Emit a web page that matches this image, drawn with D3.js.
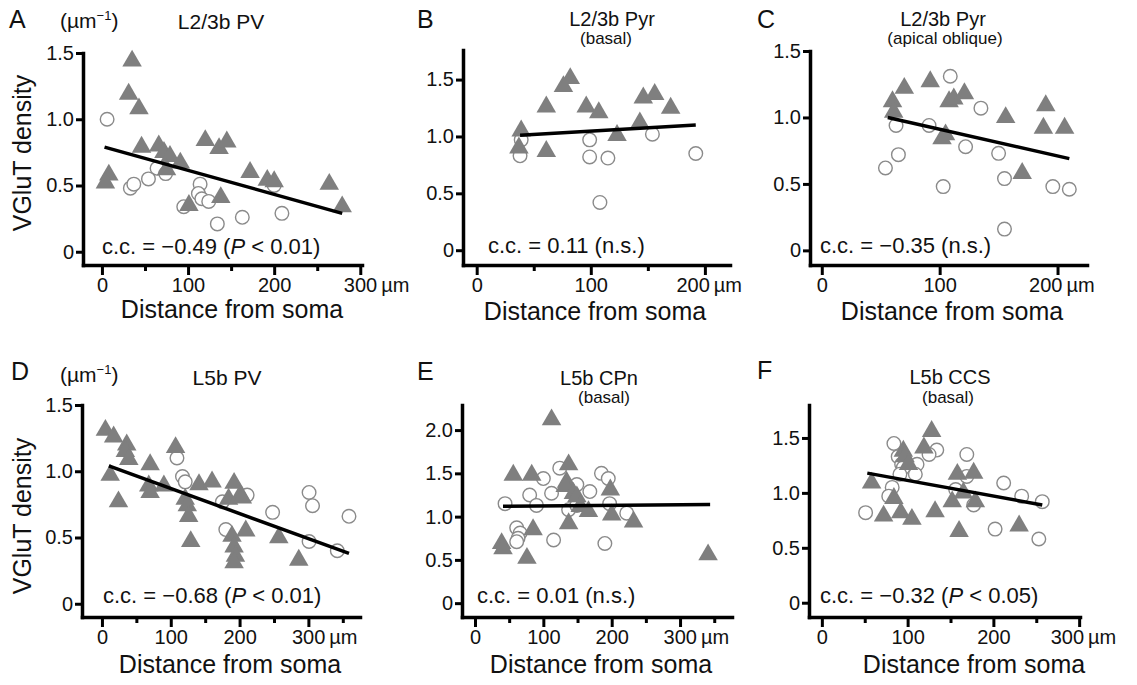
<!DOCTYPE html>
<html>
<head>
<meta charset="utf-8">
<script src="https://cdn.jsdelivr.net/npm/d3@7"></script>
<style>
  body { margin: 0; background: #fff; }
  svg text { font-family: "Liberation Sans", Arial, Helvetica, sans-serif; fill: #111; }
  .axis .domain { stroke: #000; stroke-width: 3.5; stroke-linecap: square; }
  .axis .tick line { stroke: #000; stroke-width: 3; }
  .axis .tick text { font-size: 20px; fill: #111; }
</style>
</head>
<body>
<div id="chart"></div>
<script>
// panel labels and titles
var letters = ["A", "B", "C", "D", "E", "F"];
var titles = ["L2/3b PV", "L2/3b Pyr", "L2/3b Pyr", "L5b PV", "L5b CPn", "L5b CCS"];
var subtitles = ["", "(basal)", "(apical oblique)", "", "(basal)", "(basal)"];
var ccValues = ["\u22120.49", "0.11", "\u22120.35", "\u22120.68", "0.01", "\u22120.32"];
var pValues = ["< 0.01", "n.s.", "n.s.", "< 0.01", "n.s.", "< 0.05"];

// tick values
var yTicks = [[0, 0.5, 1, 1.5], [0, 0.5, 1, 1.5], [0, 0.5, 1, 1.5], [0, 0.5, 1, 1.5], [0, 0.5, 1, 1.5, 2], [0, 0.5, 1, 1.5]];
var xMajor = [[0, 100, 200, 300], [0, 100, 200], [0, 100, 200], [0, 100, 200, 300], [0, 100, 200, 300], [0, 100, 200, 300]];
var xMinor = [[50, 150, 250], [50, 150], [], [50, 150, 250, 350], [50, 150, 250, 350], [50, 150, 250]];

// data: [distance (um), VGluT density (um^-1)]
var triA = [[35,1.44],[31,1.19],[43,1.08],[8,0.58],[4,0.52],[46,0.79],[66,0.80],[72,0.75],[79,0.72],[75,0.62],[91,0.67],[101,0.35],[120,0.84],[136,0.78],[145,0.83],[138,0.41],[172,0.60],[192,0.54],[200,0.53],[264,0.51],[279,0.34]];
var circA = [[6,1.00],[33,0.48],[37,0.51],[54,0.55],[64,0.63],[74,0.59],[95,0.34],[114,0.51],[112,0.44],[116,0.40],[124,0.38],[134,0.21],[163,0.26],[200,0.50],[209,0.29]];
var fitA = [[3,0.79],[279,0.29]];

var triB = [[39,1.05],[37,0.90],[61,0.87],[61,1.26],[76,1.44],[82,1.51],[96,1.26],[107,1.21],[123,1.01],[143,1.12],[146,1.34],[156,1.37],[170,1.25]];
var circB = [[38,0.83],[39,0.97],[99,0.97],[99,0.82],[115,0.81],[108,0.42],[154,1.02],[192,0.85]];
var fitB = [[38,1.01],[192,1.10]];

var triC = [[60,1.12],[61,1.04],[70,1.22],[92,1.27],[102,0.84],[105,0.87],[108,1.12],[112,1.14],[121,1.18],[156,1.00],[170,0.58],[190,1.09],[188,0.92],[206,0.92]];
var circC = [[54,0.62],[63,0.94],[65,0.72],[91,0.94],[103,0.48],[109,1.31],[122,0.78],[135,1.07],[150,0.73],[155,0.54],[155,0.16],[196,0.48],[210,0.46]];
var fitC = [[56,1.00],[210,0.69]];

var triD = [[5,1.31],[17,1.26],[36,1.20],[34,1.15],[39,1.09],[12,0.97],[24,0.77],[70,1.05],[68,0.89],[70,0.84],[90,0.89],[107,1.18],[121,0.79],[124,0.74],[126,0.66],[129,0.47],[141,0.90],[160,0.92],[184,0.79],[192,0.91],[201,0.82],[204,0.80],[189,0.51],[192,0.43],[194,0.36],[192,0.31],[209,0.55],[257,0.50],[286,0.33]];
var circD = [[109,1.10],[117,0.96],[121,0.92],[175,0.77],[180,0.56],[211,0.82],[248,0.69],[301,0.84],[306,0.74],[301,0.47],[342,0.40],[359,0.66]];
var fitD = [[10,1.04],[359,0.38]];

var triE = [[112,2.12],[56,1.48],[83,1.48],[137,1.60],[134,1.40],[132,1.35],[144,1.27],[149,1.23],[154,1.12],[166,1.06],[198,1.31],[200,1.02],[232,0.94],[137,0.92],[85,0.85],[39,0.69],[41,0.63],[76,0.52],[341,0.56]];
var circE = [[44,1.15],[80,1.25],[90,1.13],[100,1.44],[112,1.27],[124,1.56],[149,1.37],[168,1.29],[185,1.50],[195,1.44],[197,1.15],[137,1.08],[149,1.13],[61,0.87],[66,0.81],[63,0.75],[61,0.71],[115,0.73],[190,0.69],[222,1.04]];
var fitE = [[41,1.12],[344,1.14]];

var triF = [[58,1.09],[72,0.79],[84,0.95],[92,0.82],[105,0.76],[95,1.38],[97,1.33],[101,1.26],[119,1.41],[128,1.56],[132,0.83],[158,1.17],[152,0.92],[160,0.65],[165,1.00],[177,1.18],[179,0.92],[230,0.70]];
var circF = [[51,0.82],[84,1.45],[89,1.33],[93,1.26],[95,1.23],[111,1.26],[109,1.17],[91,1.17],[82,1.05],[78,0.97],[134,1.39],[125,1.35],[169,1.35],[169,1.15],[177,0.89],[156,1.03],[212,1.09],[233,0.97],[257,0.92],[202,0.67],[253,0.58]];
var fitF = [[53,1.18],[257,0.89]];

var triangles = [triA, triB, triC, triD, triE, triF];
var circles = [circA, circB, circC, circD, circE, circF];
var fits = [fitA, fitB, fitC, fitD, fitE, fitF];

// panel geometry (pixels)
var layout = [
    {x: [83, 362], y: [265, 53], xd: [-22, 302], yd: [-0.1, 1.5], letter: [9, 28], title: [221, 29], sub: null, unit: [60, 28], cc: [102, 254], xt: [232, 318], ylab: [31, 153], shift: 0},
    {x: [463, 730], y: [265, 50], xd: [-12, 222], yd: [-0.13, 1.76], letter: [417, 28], title: [612, 26], sub: [606, 44], cc: [488, 253], xt: [595, 320], shift: -12},
    {x: [810, 1087], y: [265, 51], xd: [-10, 225], yd: [-0.11, 1.5], letter: [757, 28], title: [943, 26], sub: [945, 44], cc: [820, 253], xt: [952, 320], shift: -12},
    {x: [82, 360], y: [617, 405], xd: [-29, 375], yd: [-0.1, 1.5], letter: [11, 380], title: [227, 385], sub: null, unit: [60, 382], cc: [103, 603], xt: [230, 673], ylab: [31, 516], shift: 0},
    {x: [462, 732], y: [617, 405], xd: [-19, 376], yd: [-0.16, 2.29], letter: [417, 380], title: [599, 385], sub: [604, 403], cc: [477, 603], xt: [601, 673], shift: 0},
    {x: [809, 1080], y: [617, 405], xd: [-15, 301], yd: [-0.13, 1.8], letter: [757, 379], title: [950, 384], sub: [948, 403], cc: [820, 603], xt: [974, 673], shift: -12}
];

var svg = d3.select("#chart")
    .append("svg")
    .attr("width", 1137)
    .attr("height", 685);

var triangle = d3.symbol().type(d3.symbolTriangle).size(165);

function drawPanel(i) {
    var L = layout[i];
    var x = d3.scaleLinear().domain(L.xd).range(L.x);
    var y = d3.scaleLinear().domain(L.yd).range(L.y);
    var g = svg.append("g").attr("class", "panel");

    // open circles first, triangles on top
    g.selectAll("circle.open").data(circles[i]).enter().append("circle")
        .attr("class", "open")
        .attr("cx", function(d) { return x(d[0]); })
        .attr("cy", function(d) { return y(d[1]); })
        .attr("r", 6.8)
        .style("fill", "#fff")
        .style("stroke", "#8a8a8a")
        .style("stroke-width", 1.4);

    g.selectAll("path.tri").data(triangles[i]).enter().append("path")
        .attr("class", "tri")
        .attr("d", triangle)
        .attr("transform", function(d) { return "translate(" + x(d[0]) + "," + y(d[1]) + ")"; })
        .style("fill", "#7f7f7f");

    // regression line
    g.append("path")
        .datum(fits[i])
        .attr("d", d3.line().x(function(d) { return x(d[0]); }).y(function(d) { return y(d[1]); }))
        .style("fill", "none")
        .style("stroke", "#000")
        .style("stroke-width", 3.5);

    // axes
    var yAxis = d3.axisLeft(y)
        .tickValues(yTicks[i])
        .tickSize(7).tickSizeOuter(0).tickPadding(2)
        .tickFormat(function(d) { return d === 0 ? "0" : d3.format(".1f")(d); });
    g.append("g").attr("class", "axis")
        .attr("transform", "translate(" + L.x[0] + ",0)")
        .call(yAxis);

    var last = xMajor[i][xMajor[i].length - 1];
    var xAxis = d3.axisBottom(x)
        .tickValues(xMajor[i])
        .tickSize(10).tickSizeOuter(0).tickPadding(3)
        .tickFormat(d3.format("d"));
    var xg = g.append("g").attr("class", "axis")
        .attr("transform", "translate(0," + L.y[0] + ")")
        .call(xAxis);
    // unit after the last tick label
    xg.selectAll(".tick").filter(function(d) { return d === last; })
        .select("text")
        .attr("text-anchor", "start")
        .attr("x", -17 + L.shift)
        .append("tspan").text("\u2009\u00b5m");

    if (xMinor[i].length) {
        var minor = d3.axisBottom(x).tickValues(xMinor[i]).tickSize(6).tickFormat("");
        g.append("g").attr("class", "axis minor")
            .attr("transform", "translate(0," + L.y[0] + ")")
            .call(minor)
            .select(".domain").remove();
    }

    // texts
    g.append("text").attr("x", L.letter[0]).attr("y", L.letter[1])
        .style("font-size", "25px").text(letters[i]);
    g.append("text").attr("x", L.title[0]).attr("y", L.title[1])
        .attr("text-anchor", "middle")
        .style("font-size", L.sub ? "20px" : "21px").text(titles[i]);
    if (L.sub) {
        g.append("text").attr("x", L.sub[0]).attr("y", L.sub[1])
            .attr("text-anchor", "middle")
            .style("font-size", "17px").text(subtitles[i]);
    }
    if (L.unit) {
        var u = g.append("text").attr("x", L.unit[0]).attr("y", L.unit[1]).style("font-size", "21px");
        u.append("tspan").text("(\u00b5m");
        u.append("tspan").attr("dy", -8).style("font-size", "13px").text("\u22121");
        u.append("tspan").attr("dy", 8).text(")");
    }
    if (L.ylab) {
        g.append("text")
            .attr("transform", "translate(" + L.ylab[0] + "," + L.ylab[1] + ") rotate(-90)")
            .attr("text-anchor", "middle")
            .style("font-size", "25px").text("VGluT density");
    }
    g.append("text").attr("x", L.xt[0]).attr("y", L.xt[1])
        .attr("text-anchor", "middle")
        .style("font-size", "25px").text("Distance from soma");

    var cc = g.append("text").attr("x", L.cc[0]).attr("y", L.cc[1]).style("font-size", "22px");
    cc.append("tspan").text("c.c. = " + ccValues[i] + " (");
    if (pValues[i] === "n.s.") {
        cc.append("tspan").text("n.s.)");
    } else {
        cc.append("tspan").style("font-style", "italic").text("P");
        cc.append("tspan").text(" " + pValues[i] + ")");
    }
}

for (var i = 0; i < 6; i++) {
    drawPanel(i);
}
</script>
</body>
</html>
